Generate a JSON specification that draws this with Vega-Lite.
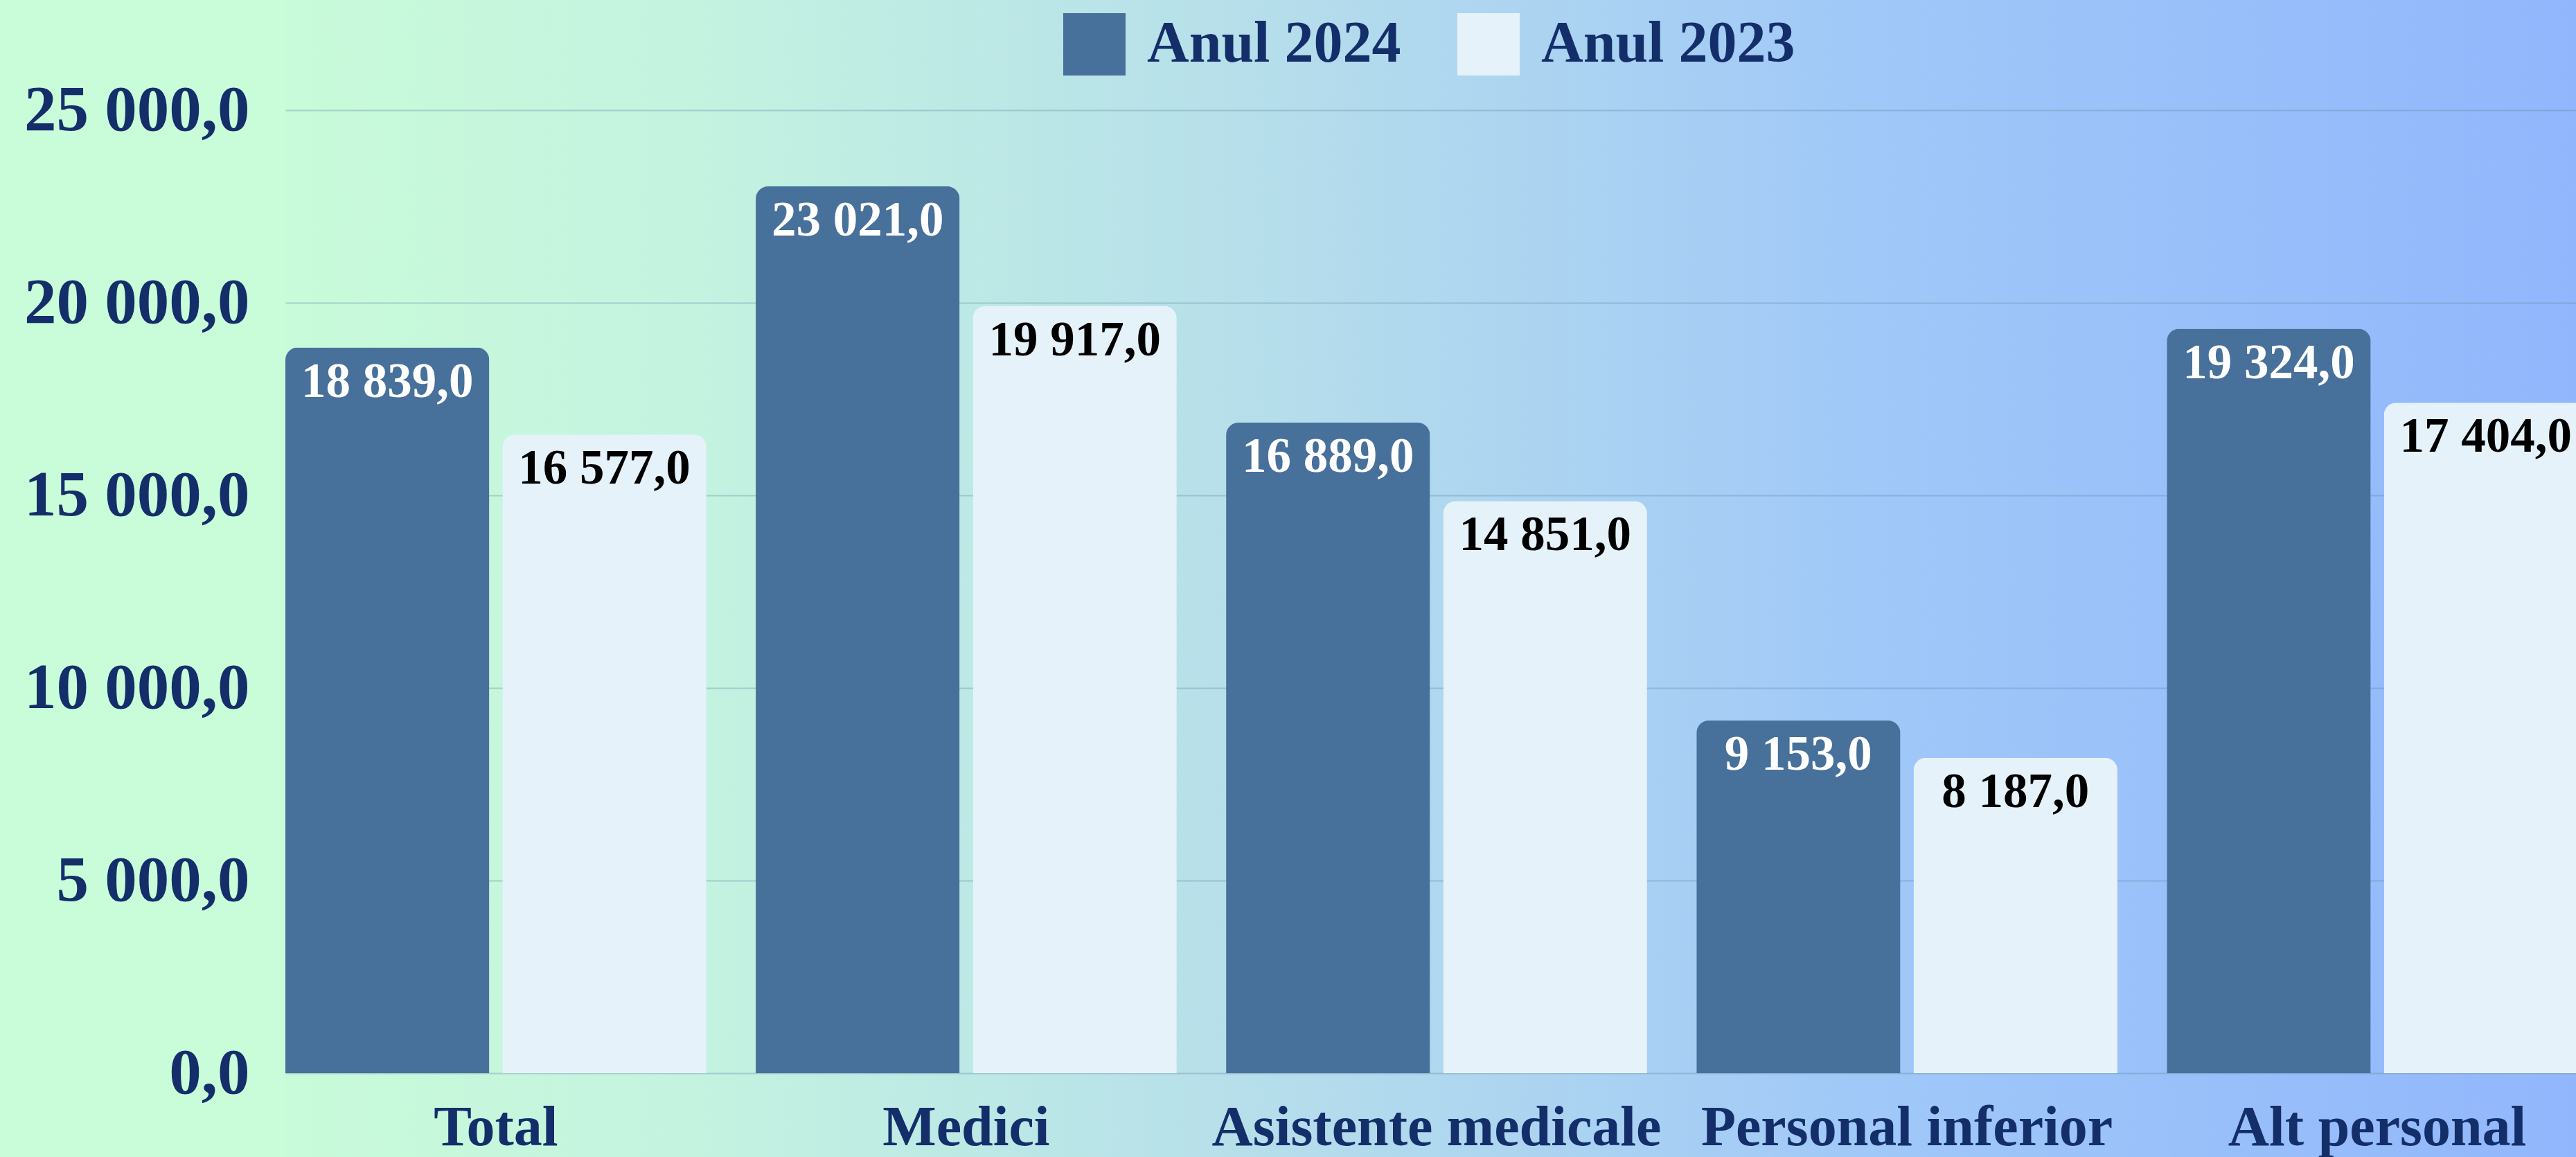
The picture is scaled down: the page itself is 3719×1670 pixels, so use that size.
{
  "$schema": "https://vega.github.io/schema/vega-lite/v6.json",
  "autosize": "none",
  "width": 3324,
  "height": 1670,
  "padding": {"left": 412, "top": 0, "right": 0, "bottom": 0},
  "background": "#c9fcd8",
  "config": {
    "locale": {"number": {"decimal": ",", "thousands": " ", "grouping": [3], "currency": ["", ""]}},
    "view": {
      "stroke": null,
      "fill": {
        "gradient": "linear", "x1": 0, "y1": 0, "x2": 1, "y2": 0,
        "stops": [
          {"offset": 0, "color": "#c8fbd9"},
          {"offset": 0.177, "color": "#c4f3e0"},
          {"offset": 0.448, "color": "#b4dcec"},
          {"offset": 0.688, "color": "#a0c8f8"},
          {"offset": 1, "color": "#92b6fc"}
        ]
      }
    },
    "font": "Liberation Serif"
  },
  "data": {
    "values": [
      {"cat": "Total", "year": "Anul 2024", "value": 18839},
      {"cat": "Total", "year": "Anul 2023", "value": 16577},
      {"cat": "Medici", "year": "Anul 2024", "value": 23021},
      {"cat": "Medici", "year": "Anul 2023", "value": 19917},
      {"cat": "Asistente medicale", "year": "Anul 2024", "value": 16889},
      {"cat": "Asistente medicale", "year": "Anul 2023", "value": 14851},
      {"cat": "Personal inferior", "year": "Anul 2024", "value": 9153},
      {"cat": "Personal inferior", "year": "Anul 2023", "value": 8187},
      {"cat": "Alt personal", "year": "Anul 2024", "value": 19324},
      {"cat": "Alt personal", "year": "Anul 2023", "value": 17404}
    ]
  },
  "encoding": {
    "x": {
      "field": "cat", "type": "nominal",
      "sort": ["Total", "Medici", "Asistente medicale", "Personal inferior", "Alt personal"],
      "scale": {"paddingInner": 0.105, "paddingOuter": 0},
      "axis": {
        "title": null, "orient": "bottom", "offset": -121, "domain": false, "ticks": false, "tickSize": 0,
        "grid": false, "labelAngle": 0, "labelBaseline": "alphabetic", "labelPadding": 103,
        "labelFontSize": 82, "labelFontWeight": "bold", "labelColor": "#142e6a", "labelLimit": 2000
      }
    },
    "xOffset": {
      "field": "year", "type": "nominal", "sort": ["Anul 2024", "Anul 2023"],
      "scale": {"paddingInner": 0.0607, "paddingOuter": 0}
    },
    "y": {
      "field": "value", "type": "quantitative",
      "scale": {"domain": [-2176, 27860], "nice": false, "zero": false},
      "axis": {
        "title": null, "values": [0, 5000, 10000, 15000, 20000, 25000], "format": ",.1f",
        "domain": false, "ticks": false, "tickSize": 0, "labelPadding": 52,
        "labelFontSize": 93, "labelFontWeight": "bold", "labelColor": "#142e6a", "labelLimit": 2000,
        "grid": true, "gridColor": "#5f8aa0", "gridOpacity": 0.35, "gridWidth": 2
      }
    }
  },
  "layer": [
    {
      "mark": {"type": "bar", "cornerRadiusTopLeft": 18, "cornerRadiusTopRight": 18},
      "encoding": {
        "color": {
          "field": "year", "type": "nominal",
          "scale": {"domain": ["Anul 2024", "Anul 2023"], "range": ["#47709b", "#e6f2fa"]},
          "legend": {
            "title": null, "orient": "none", "direction": "horizontal", "legendX": 1123, "legendY": 19,
            "padding": 0, "symbolType": "square", "symbolSize": 8100, "symbolStrokeWidth": 0, "symbolOpacity": 1,
            "labelFontSize": 84, "labelFontWeight": "bold", "labelColor": "#142e6a", "labelOffset": 31,
            "columnPadding": 81, "labelLimit": 2000
          }
        }
      }
    },
    {
      "mark": {"type": "text", "align": "center", "baseline": "alphabetic", "dy": 71, "fontSize": 71, "fontWeight": "bold"},
      "encoding": {
        "text": {"field": "value", "type": "quantitative", "format": ",.1f"},
        "color": {"condition": {"test": "datum.year === 'Anul 2024'", "value": "#ffffff"}, "value": "#000000"}
      }
    }
  ]
}
